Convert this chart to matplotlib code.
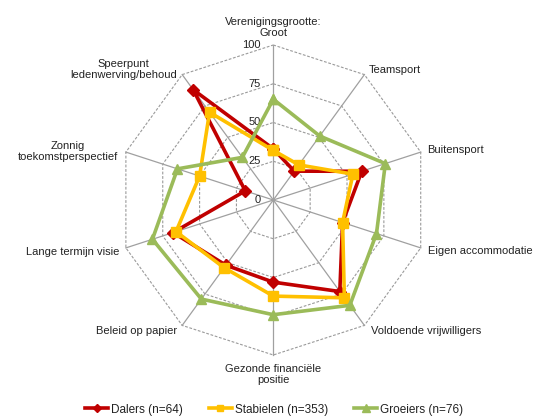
import numpy as np
import matplotlib
matplotlib.use("Agg")
import matplotlib.pyplot as plt

categories = ["Verenigingsgrootte:\nGroot", "Teamsport", "Buitensport", "Eigen accommodatie",
              "Voldoende vrijwilligers", "Gezonde financiële\npositie", "Beleid op papier",
              "Lange termijn visie", "Zonnig\ntoekomstperspectief", "Speerpunt\nledenwerving/behoud"]
dalers = [33, 23, 60, 47, 73, 53, 52, 68, 19, 88]
stabielen = [32, 28, 54, 47, 78, 62, 54, 66, 50, 70]
groeiers = [65, 51, 76, 70, 84, 74, 79, 82, 65, 34]
series_names = ["Dalers (n=64)", "Stabielen (n=353)", "Groeiers (n=76)"]
ticks = [0, 25, 50, 75, 100]

plt.rcParams['font.family'] = ['Liberation Sans', 'DejaVu Sans']

W, H = 537, 417
fig = plt.figure(figsize=(W / 100, H / 100), dpi=100)
ax = fig.add_axes([0, 0, 1, 1])
scale = 1.55  # px per unit
cx, cy = 273.3, 200.0
ax.set_xlim(-cx / scale, (W - cx) / scale)
ax.set_ylim(-(H - cy) / scale, cy / scale)
ax.set_aspect('equal')
ax.axis('off')

n = len(categories)
ang = np.arange(n) * 2 * np.pi / n
sx, sy = np.sin(ang), np.cos(ang)

def xy(vals):
    v = np.asarray(vals, dtype=float)
    x = v * sx
    y = v * sy
    return np.append(x, x[0]), np.append(y, y[0])

grid_col = '#9a9a9a'
for t in ticks[1:]:
    gx, gy = xy([t] * n)
    ax.plot(gx, gy, color=grid_col, lw=0.8, ls=(0, (2.5, 1.5)), zorder=1)
for i in range(n):
    ax.plot([0, 100 * sx[i]], [0, 100 * sy[i]], color='#a0a0a0', lw=0.9, zorder=1)

for t in ticks:
    ax.text(-8, t, str(t), ha='right', va='center', fontsize=8, color='#222222', zorder=2)

colors = ['#C00000', '#FFC000', '#9BBB59']
markers = ['D', 's', '^']
msizes = [6.5, 6.5, 7.5]
for vals, c, m, ms, name in zip([dalers, stabielen, groeiers], colors, markers, msizes, series_names):
    px, py = xy(vals)
    ax.plot(px, py, color=c, lw=2.6, marker=m, ms=ms, mec=c, mfc=c, label=name, zorder=3)

# category labels: (offset in px, ha, va)
offs = [((0, 7), 'center', 'bottom'),
        ((4, 5), 'left', 'center'),
        ((6, 2), 'left', 'center'),
        ((7, -3), 'left', 'center'),
        ((7, -6), 'left', 'center'),
        ((0, -9), 'center', 'top'),
        ((-5, -6), 'right', 'center'),
        ((-7, -4), 'right', 'center'),
        ((-8, 1), 'right', 'center'),
        ((-5, 5), 'right', 'center')]
for i, (lab, (o, ha, va)) in enumerate(zip(categories, offs)):
    ax.annotate(lab, (100 * sx[i], 100 * sy[i]), xytext=(o[0] * 0.72, o[1] * 0.72),
                textcoords='offset points', ha=ha, va=va, multialignment='center',
                fontsize=8, color='#222222', linespacing=1.15)

leg = fig.legend(loc='lower center', bbox_to_anchor=(0.51, -0.022), ncol=3, frameon=False,
                 fontsize=8.5, handlelength=2.0, handletextpad=0.2, columnspacing=2.2,
                 markerscale=0.7)
for t in leg.get_texts():
    t.set_color('#222222')

fig.savefig('out.png', dpi=100)
